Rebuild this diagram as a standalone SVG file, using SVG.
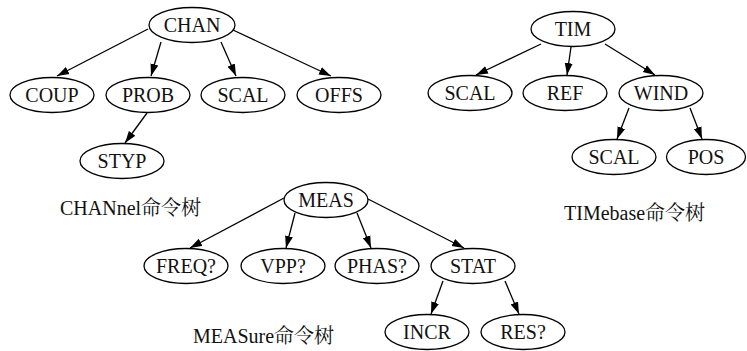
<svg xmlns="http://www.w3.org/2000/svg" width="747" height="351" viewBox="0 0 747 351">
<style>
.n ellipse{fill:#fff;stroke:#000;stroke-width:1.3}
.n text{font-family:'Liberation Serif','DejaVu Serif','Noto Serif',Times,serif;font-size:20px;fill:#111;text-anchor:middle}
.cap{font-family:'Liberation Serif','DejaVu Serif','Noto Serif CJK SC','Noto Sans CJK SC',serif;font-size:20px;fill:#111}
#edges line{stroke:#000;stroke-width:1.3;marker-end:url(#ah)}
</style>
<defs>
<marker id="ah" markerUnits="userSpaceOnUse" markerWidth="13" markerHeight="10" refX="12" refY="4.5" orient="auto">
<path d="M0,0.5 L12,4.5 L0,8.5 z" fill="#000"/>
</marker>
</defs>
<rect width="747" height="351" fill="#fff"/>
<g id="edges">
<line x1="148" y1="29" x2="57" y2="76"/>
<line x1="161" y1="42" x2="151" y2="76"/>
<line x1="221" y1="42" x2="236" y2="76"/>
<line x1="233" y1="30" x2="331" y2="76"/>
<line x1="147" y1="113" x2="125" y2="143"/>
<line x1="541" y1="44" x2="476" y2="75"/>
<line x1="571" y1="47" x2="567" y2="75"/>
<line x1="605" y1="44" x2="655" y2="75"/>
<line x1="629" y1="108" x2="617" y2="139"/>
<line x1="690" y1="108" x2="702" y2="139"/>
<line x1="284" y1="198" x2="190" y2="248"/>
<line x1="295" y1="213" x2="286" y2="248"/>
<line x1="357" y1="213" x2="371" y2="248"/>
<line x1="368" y1="199" x2="464" y2="248"/>
<line x1="443" y1="281" x2="431" y2="314"/>
<line x1="505" y1="281" x2="519" y2="314"/>
</g>
<g id="CHAN" class="n"><ellipse cx="192" cy="25" rx="43" ry="17.5"/><text x="192" y="32">CHAN</text></g>
<g id="COUP" class="n"><ellipse cx="52" cy="95" rx="42" ry="17.5"/><text x="52" y="102">COUP</text></g>
<g id="PROB" class="n"><ellipse cx="148" cy="95" rx="42" ry="17.5"/><text x="148" y="102">PROB</text></g>
<g id="SCAL_C" class="n"><ellipse cx="243" cy="95" rx="42" ry="17.5"/><text x="243" y="102">SCAL</text></g>
<g id="OFFS" class="n"><ellipse cx="339" cy="95" rx="42" ry="17.5"/><text x="339" y="102">OFFS</text></g>
<g id="STYP" class="n"><ellipse cx="122" cy="161" rx="42" ry="17.5"/><text x="122" y="168">STYP</text></g>
<g id="TIM" class="n"><ellipse cx="573" cy="29" rx="42" ry="17.5"/><text x="573" y="36">TIM</text></g>
<g id="SCAL_T" class="n"><ellipse cx="470" cy="93" rx="42" ry="17.5"/><text x="470" y="100">SCAL</text></g>
<g id="REF" class="n"><ellipse cx="565" cy="93" rx="42" ry="17.5"/><text x="565" y="100">REF</text></g>
<g id="WIND" class="n"><ellipse cx="661" cy="93" rx="42" ry="17.5"/><text x="661" y="100">WIND</text></g>
<g id="SCAL_W" class="n"><ellipse cx="614" cy="157" rx="42" ry="17.5"/><text x="614" y="164">SCAL</text></g>
<g id="POS" class="n"><ellipse cx="706" cy="157" rx="39.5" ry="17.5"/><text x="706" y="164">POS</text></g>
<g id="MEAS" class="n"><ellipse cx="326" cy="200" rx="42" ry="17.5"/><text x="326" y="207">MEAS</text></g>
<g id="FREQ" class="n"><ellipse cx="186" cy="266" rx="42" ry="17.5"/><text x="186" y="273">FREQ?</text></g>
<g id="VPP" class="n"><ellipse cx="283" cy="266" rx="42" ry="17.5"/><text x="283" y="273">VPP?</text></g>
<g id="PHAS" class="n"><ellipse cx="377" cy="266" rx="42" ry="17.5"/><text x="377" y="273">PHAS?</text></g>
<g id="STAT" class="n"><ellipse cx="473" cy="266" rx="42" ry="17.5"/><text x="473" y="273">STAT</text></g>
<g id="INCR" class="n"><ellipse cx="427" cy="332" rx="42" ry="17.5"/><text x="427" y="339">INCR</text></g>
<g id="RES" class="n"><ellipse cx="523" cy="332" rx="42" ry="17.5"/><text x="523" y="339">RES?</text></g>
<text class="cap" x="60" y="215">CHANnel命令树</text>
<text class="cap" x="564" y="220">TIMebase命令树</text>
<text class="cap" x="193" y="343">MEASure命令树</text>
</svg>
